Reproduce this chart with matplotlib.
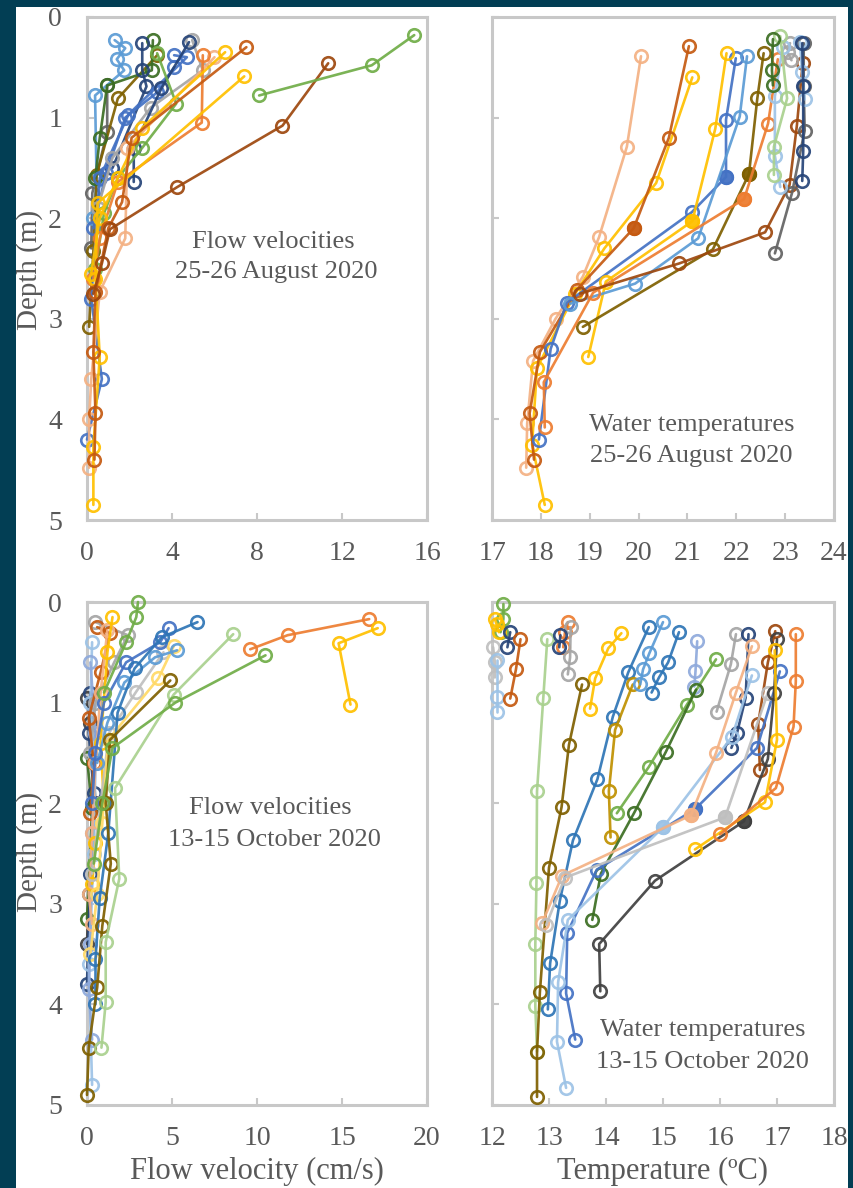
import matplotlib
matplotlib.use("Agg")
import matplotlib.pyplot as plt
from matplotlib.patches import Rectangle

W, H = 854, 1188
BG = "#023E54"
TXT = "#595959"
FRAME = "#C8C8C8"
FONT = "Liberation Serif"

BLUE, ORANGE, GRAY, GOLD = "#4472C4", "#ED7D31", "#A5A5A5", "#FFC000"
LTBLUE, GREEN, NAVY, DKORANGE = "#5B9BD5", "#70AD47", "#264478", "#C55A11"
BROWN, OLIVE, DKGREEN, DKGRAY = "#9E480E", "#7F6000", "#3B6E22", "#636363"
LTGREEN, SALMON, PALEBLUE, PERI = "#A9D18E", "#F4B183", "#9DC3E6", "#8FAADC"
DKBLUE, MUSTARD, LTGRAY, LTGOLD = "#2E75B6", "#BF9000", "#BFBFBF", "#FFD966"
CHAR = "#404040"

# ---- 25-26 August 2020, flow velocity (cm/s) vs depth (m)
aug_v_green = ([15.4, 13.4, 8.1], [0.18, 0.48, 0.78])
aug_v_green2 = ([3.3, 4.2, 2.6, 1.45, 0.8, 0.4], [0.36, 0.86, 1.3, 1.6, 1.95, 2.5])
aug_v_brown = ([11.35, 9.2, 4.25, 1.08, 0.7, 0.3], [0.46, 1.08, 1.69, 2.11, 2.45, 2.75])
aug_v_dkorange = ([7.5, 2.1, 1.65, 1.0, 0.4, 0.3, 0.4, 0.35], [0.3, 1.2, 1.84, 2.1, 2.73, 3.33, 3.94, 4.4])
aug_v_gold1 = ([7.4, 0.5, 0.4, 0.6, 0.3, 0.3], [0.59, 1.85, 2.6, 3.38, 4.27, 4.85])
aug_v_gold2 = ([6.5, 2.6, 1.45, 0.6, 0.2], [0.35, 1.1, 1.6, 2.0, 2.55])
aug_v_orange = ([5.45, 5.4, 1.45, 0.6, 0.3], [0.38, 1.05, 1.64, 2.2, 2.6])
aug_v_salmon = ([6.0, 1.9, 1.8, 0.6, 0.2, 0.1, 0.1], [0.4, 1.3, 2.2, 2.73, 3.6, 4.0, 4.48])
aug_v_navy = ([4.8, 3.5, 2.2, 2.2], [0.25, 0.71, 1.3, 1.64])
aug_v_navy2 = ([2.6, 2.6, 2.8, 1.2], [0.26, 0.53, 0.69, 1.5])
aug_v_dkgreen = ([3.1, 3.05, 0.95, 0.6, 0.4], [0.23, 0.53, 0.68, 1.2, 1.6])
aug_v_olive = ([3.3, 1.45, 0.45, 0.3, 0.1], [0.38, 0.81, 1.57, 2.33, 3.08])
aug_v_ltblue = ([1.3, 1.8, 1.4, 1.75, 0.38, 0.45, 0.3], [0.23, 0.31, 0.42, 0.53, 0.78, 1.62, 2.0])
aug_v_gray = ([4.95, 5.45, 3.0, 1.2, 0.5], [0.23, 0.53, 0.9, 1.4, 1.9])
aug_v_dkgray = ([0.95, 0.95, 0.25, 0.2], [0.68, 1.14, 1.75, 2.3])
aug_v_blue = ([4.1, 4.7, 1.95, 0.6, 0.2, 0.7, 0.0], [0.38, 0.4, 0.97, 1.6, 2.8, 3.6, 4.2])
aug_v_blue2 = ([4.1, 3.3, 1.8, 0.9, 0.3], [0.5, 0.75, 1.0, 1.55, 2.1])

# ---- 25-26 August 2020, water temperature (degC) vs depth (m)
aug_t_salmon = ([20.05, 19.76, 19.19, 18.86, 18.3, 17.84, 17.72, 17.7], [0.39, 1.29, 2.19, 2.58, 3.0, 3.42, 4.04, 4.48])
aug_t_dkorange = ([21.03, 20.62, 19.9, 18.74, 17.98, 17.77, 17.86], [0.29, 1.2, 2.1, 2.71, 3.33, 3.94, 4.4])
aug_t_gold1 = ([21.1, 20.36, 19.3, 18.7, 17.92, 17.82, 18.08], [0.6, 1.65, 2.3, 2.75, 3.49, 4.25, 4.85])
aug_t_gold2 = ([21.8, 21.57, 21.1, 19.33, 18.97], [0.36, 1.11, 2.03, 2.63, 3.38])
aug_t_blue = ([21.99, 21.79, 21.79, 21.09, 18.53, 18.2, 17.96], [0.41, 1.02, 1.59, 1.94, 2.84, 3.3, 4.2])
aug_t_ltblue = ([22.22, 22.07, 21.22, 19.93, 18.6], [0.39, 0.99, 2.2, 2.65, 2.85])
aug_t_olive = ([22.56, 22.43, 22.26, 21.52, 18.86], [0.36, 0.81, 1.56, 2.31, 3.08])
aug_t_orange = ([22.85, 22.65, 22.16, 19.07, 18.06, 18.08], [0.42, 1.06, 1.81, 2.74, 3.63, 4.08])
aug_t_brown = ([23.36, 23.24, 23.09, 22.59, 20.83, 18.8], [0.46, 1.08, 1.67, 2.14, 2.45, 2.75])
aug_t_dkgray = ([23.38, 23.38, 23.4, 23.14, 22.79], [0.26, 0.69, 1.13, 1.75, 2.35])
aug_t_navy = ([23.35, 23.37, 23.37, 23.35], [0.26, 0.69, 1.33, 1.63])
aug_t_ltgreen = ([22.9, 23.04, 22.77, 22.77], [0.19, 0.81, 1.29, 1.57])
aug_t_paleblue = ([22.95, 22.79, 22.79, 22.9], [0.3, 0.79, 1.38, 1.69])
aug_t_dkgreen = ([22.75, 22.73, 22.75], [0.22, 0.53, 0.68])
aug_t_gray = ([23.1, 23.05, 23.13], [0.26, 0.35, 0.43])
aug_t_ltblue2 = ([23.3, 23.35, 23.4], [0.25, 0.55, 0.82])

# ---- 13-15 October 2020, flow velocity (cm/s) vs depth (m)
oct_v_orange = ([16.6, 11.8, 9.6], [0.17, 0.33, 0.47])
oct_v_gold = ([17.1, 14.8, 15.5], [0.26, 0.41, 1.02])
oct_v_green = ([10.5, 5.2, 1.5, 0.9, 0.4], [0.53, 1.0, 1.45, 2.0, 2.6])
oct_v_green2 = ([3.0, 2.9, 2.3, 1.0], [0.0, 0.15, 0.4, 0.9])
oct_v_ltgreen = ([8.6, 5.1, 1.65, 1.9, 1.1, 1.1, 0.85], [0.32, 0.92, 1.85, 2.75, 3.38, 3.98, 4.43])
oct_v_olive = ([4.9, 1.35, 1.1, 1.4, 0.9, 0.6, 0.1, 0.0], [0.78, 1.37, 2.0, 2.6, 3.22, 3.83, 4.43, 4.9])
oct_v_dkblue = ([6.5, 4.4, 2.8, 1.8, 1.25, 0.75, 0.5, 0.5], [0.2, 0.35, 0.66, 1.1, 2.3, 2.94, 3.55, 4.0])
oct_v_blue = ([4.8, 4.3, 2.3, 1.0, 0.5, 0.3], [0.26, 0.4, 0.6, 1.0, 1.5, 2.0])
oct_v_ltblue = ([5.3, 4.0, 2.2, 1.2, 0.6], [0.48, 0.55, 0.8, 1.2, 1.6])
oct_v_ltgold = ([5.1, 4.2, 1.25, 0.9, 0.6, 0.2], [0.44, 0.76, 1.37, 2.2, 2.9, 3.5])
oct_v_ltgray = ([4.5, 2.9, 1.3, 0.8, 0.3], [0.5, 0.89, 1.3, 2.0, 2.7])
oct_v_dkorange = ([0.6, 1.35, 0.8, 0.1, 0.4, 0.2], [0.25, 0.31, 0.7, 1.15, 1.6, 2.1])
oct_v_gray = ([0.5, 2.4, 1.6, 0.5, 0.2], [0.2, 0.33, 0.6, 1.0, 1.5])
oct_v_char = ([0.0, 0.2, 0.5, 0.1, 0.0], [0.95, 1.2, 2.0, 2.9, 3.4])
oct_v_dkgreen = ([0.0, 0.3, 0.0], [1.55, 2.05, 3.15])
oct_v_paleblue = ([0.3, 0.2, 0.5, 0.4, 0.1, 0.3], [0.4, 1.0, 1.6, 2.5, 3.6, 4.8])
oct_v_peri = ([0.2, 0.5, 0.3, 0.2, 0.1, 0.3], [0.6, 1.3, 2.3, 3.4, 3.85, 4.35])
oct_v_salmon = ([1.2, 0.8, 0.5, 0.3, 0.1, 0.3], [0.28, 0.9, 1.6, 2.3, 2.9, 3.2])
oct_v_gold2 = ([1.5, 1.2, 0.8, 1.0, 0.5, 0.3], [0.15, 0.5, 1.4, 2.0, 2.4, 2.8])
oct_v_navy = ([0.2, 0.1, 0.4, 0.2, 0.0], [0.9, 1.3, 1.9, 2.7, 3.8])

# ---- 13-15 October 2020, water temperature (degC) vs depth (m)
oct_t_green = ([12.2, 12.2, 12.15], [0.02, 0.17, 0.3])
oct_t_ltgreen = ([12.97, 12.9, 12.79, 12.78, 12.76, 12.76, 12.79], [0.37, 0.95, 1.88, 2.79, 3.4, 4.02, 4.47])
oct_t_dkorange = ([12.5, 12.42, 12.32], [0.37, 0.67, 0.96])
oct_t_paleblue = ([12.09, 12.09, 12.09], [0.58, 0.94, 1.09])
oct_t_navy1 = ([12.32, 12.27], [0.3, 0.45])
oct_t_gold1 = ([12.05, 12.08, 12.12], [0.17, 0.22, 0.3])
oct_t_gray1 = ([12.02, 12.05, 12.05], [0.45, 0.6, 0.75])
oct_t_orange1 = ([13.33, 13.28, 13.25], [0.2, 0.3, 0.45])
oct_t_gray2 = ([13.38, 13.37, 13.33], [0.25, 0.55, 0.72])
oct_t_navy2 = ([13.2, 13.18], [0.33, 0.45])
oct_t_gold = ([14.27, 14.04, 13.81, 13.72], [0.31, 0.46, 0.76, 1.06])
oct_t_olive = ([13.58, 13.35, 13.22, 13.0, 12.84, 12.79, 12.79], [0.82, 1.42, 2.04, 2.64, 3.88, 4.47, 4.92])
oct_t_dkblue = ([14.75, 14.39, 14.12, 13.85, 13.42, 13.19, 13.02, 12.98], [0.25, 0.7, 1.14, 1.76, 2.37, 2.97, 3.59, 4.05])
oct_t_mustard = ([14.47, 14.16, 14.05, 14.08], [0.82, 1.27, 1.88, 2.34])
oct_t_ltblue = ([15.0, 14.76, 14.65, 14.6], [0.2, 0.51, 0.67, 0.82])
oct_t_blue2 = ([15.28, 15.09, 14.93, 14.8], [0.3, 0.6, 0.75, 0.9])
oct_t_peri = ([15.6, 15.57, 15.55], [0.39, 0.69, 0.84])
oct_t_green2 = ([15.93, 15.42, 14.75, 14.19], [0.57, 1.02, 1.64, 2.1])
oct_t_dkgreen = ([15.58, 15.05, 14.49, 13.91, 13.76], [0.87, 1.49, 2.1, 2.7, 3.16])
oct_t_gray = ([16.28, 16.19, 15.94], [0.32, 0.62, 1.09])
oct_t_char = ([17.0, 16.95, 16.84, 16.42, 14.86, 13.88, 13.9], [0.37, 0.9, 1.56, 2.18, 2.77, 3.4, 3.87])
oct_t_salmon = ([16.56, 16.28, 15.93, 15.49, 13.23, 12.88], [0.44, 0.9, 1.5, 2.12, 2.72, 3.19])
oct_t_blue = ([17.05, 16.65, 15.56, 13.84, 13.32, 13.3, 13.46], [0.69, 1.45, 2.06, 2.66, 3.29, 3.89, 4.35])
oct_t_paleblue2 = ([16.56, 16.21, 15.0, 13.33, 13.16, 13.14, 13.3], [0.73, 1.34, 2.24, 3.16, 3.78, 4.37, 4.83])
oct_t_ltgray = ([16.84, 16.09, 13.28, 12.95], [0.9, 2.14, 2.74, 3.21])
oct_t_gold2 = ([16.96, 17.0, 16.79, 15.56], [0.48, 1.37, 1.99, 2.46])
oct_t_orange = ([17.33, 17.33, 17.29, 16.98, 16.0], [0.32, 0.79, 1.24, 1.85, 2.31])
oct_t_brown = ([16.97, 16.84, 16.67, 16.7], [0.29, 0.6, 1.21, 1.67])
oct_t_navy = ([16.5, 16.45, 16.3, 16.2], [0.32, 0.95, 1.3, 1.45])

# (series, colour, index of filled marker or None)
aug_vel = [(aug_v_dkgray, DKGRAY, None), (aug_v_ltblue, LTBLUE, None), (aug_v_olive, OLIVE, None),
           (aug_v_dkgreen, DKGREEN, None), (aug_v_navy2, NAVY, None), (aug_v_blue2, BLUE, None),
           (aug_v_blue, BLUE, None), (aug_v_gray, GRAY, None), (aug_v_navy, NAVY, None),
           (aug_v_green2, GREEN, None), (aug_v_salmon, SALMON, None), (aug_v_orange, ORANGE, None),
           (aug_v_gold2, GOLD, None), (aug_v_gold1, GOLD, None), (aug_v_dkorange, DKORANGE, None),
           (aug_v_brown, BROWN, None), (aug_v_green, GREEN, None)]
aug_temp = [(aug_t_salmon, SALMON, None), (aug_t_gold1, GOLD, None), (aug_t_dkorange, DKORANGE, 2),
            (aug_t_blue, BLUE, 2), (aug_t_gold2, GOLD, 2), (aug_t_ltblue, LTBLUE, None),
            (aug_t_olive, OLIVE, 2), (aug_t_orange, ORANGE, 2), (aug_t_brown, BROWN, None),
            (aug_t_dkgray, DKGRAY, None), (aug_t_gray, GRAY, None), (aug_t_ltblue2, PALEBLUE, None),
            (aug_t_navy, NAVY, None), (aug_t_paleblue, PALEBLUE, None), (aug_t_ltgreen, LTGREEN, None),
            (aug_t_dkgreen, DKGREEN, None)]
oct_vel = [(oct_v_char, CHAR, None), (oct_v_dkgreen, DKGREEN, None), (oct_v_navy, NAVY, None),
           (oct_v_paleblue, PALEBLUE, None), (oct_v_peri, PERI, None), (oct_v_gray, GRAY, None),
           (oct_v_dkorange, DKORANGE, None), (oct_v_salmon, SALMON, None), (oct_v_gold2, GOLD, None),
           (oct_v_ltgray, LTGRAY, None), (oct_v_ltgold, LTGOLD, None), (oct_v_ltblue, LTBLUE, None),
           (oct_v_blue, BLUE, None), (oct_v_dkblue, DKBLUE, None), (oct_v_olive, OLIVE, None),
           (oct_v_green2, GREEN, None), (oct_v_ltgreen, LTGREEN, None), (oct_v_green, GREEN, None),
           (oct_v_orange, ORANGE, None), (oct_v_gold, GOLD, None)]
oct_temp = [(oct_t_green, GREEN, None), (oct_t_gold1, GOLD, None), (oct_t_gray1, LTGRAY, None),
            (oct_t_paleblue, PALEBLUE, None), (oct_t_navy1, NAVY, None), (oct_t_dkorange, DKORANGE, None),
            (oct_t_ltgreen, LTGREEN, None), (oct_t_orange1, ORANGE, None), (oct_t_gray2, GRAY, None),
            (oct_t_navy2, NAVY, None), (oct_t_gold, GOLD, None), (oct_t_olive, OLIVE, None),
            (oct_t_dkblue, DKBLUE, None), (oct_t_mustard, MUSTARD, None), (oct_t_ltblue, LTBLUE, None),
            (oct_t_blue2, DKBLUE, None), (oct_t_peri, PERI, None), (oct_t_green2, GREEN, None),
            (oct_t_dkgreen, DKGREEN, None), (oct_t_gray, GRAY, None), (oct_t_navy, NAVY, None),
            (oct_t_brown, BROWN, None), (oct_t_blue, BLUE, 2), (oct_t_paleblue2, PALEBLUE, 2),
            (oct_t_salmon, SALMON, 3), (oct_t_ltgray, LTGRAY, 1), (oct_t_char, CHAR, 3),
            (oct_t_gold2, GOLD, None), (oct_t_orange, ORANGE, None)]


def fx(px):
    return px / W


def fy(py):
    return 1 - py / H


def draw(ax, series, xlim, xticks):
    for (xs, ds), color, filled in series:
        ax.plot(xs, ds, color=color, lw=1.9, marker="o", ms=9, mfc="none", mec=color, mew=1.9,
                solid_capstyle="round", alpha=0.92, clip_on=False)
        if filled is not None:
            ax.plot(xs[filled], ds[filled], "o", color=color, ms=10, alpha=0.95, clip_on=False)
    ax.set_xlim(*xlim)
    ax.set_ylim(5, 0)
    ax.set_xticks(xticks)
    ax.set_yticks(range(6))
    for s in ax.spines.values():
        s.set_color(FRAME)
        s.set_linewidth(2.2)
        s.set_zorder(0.5)
    ax.tick_params(direction="in", length=5, width=1.5, color=FRAME, labelsize=20,
                   labelcolor=TXT, pad=15)
    ax.tick_params(axis="y", pad=18)
    for lab in ax.get_xticklabels() + ax.get_yticklabels():
        lab.set_fontfamily(FONT)


fig = plt.figure(figsize=(W / 100, H / 100), dpi=100, facecolor=BG)
fig.patches.append(Rectangle((fx(16), 0), fx(848) - fx(16), fy(7), transform=fig.transFigure,
                             facecolor="white", edgecolor="none", zorder=-5))

ax_tl = fig.add_axes([fx(87), fy(520), fx(427) - fx(87), fy(17) - fy(520)])
ax_tr = fig.add_axes([fx(492), fy(520), fx(834) - fx(492), fy(17) - fy(520)])
ax_bl = fig.add_axes([fx(87), fy(1105), fx(427) - fx(87), fy(602) - fy(1105)])
ax_br = fig.add_axes([fx(492), fy(1105), fx(834) - fx(492), fy(602) - fy(1105)])

draw(ax_tl, aug_vel, (0, 16), [0, 4, 8, 12, 16])
draw(ax_tr, aug_temp, (17, 24), list(range(17, 25)))
draw(ax_bl, oct_vel, (0, 20), [0, 5, 10, 15, 20])
draw(ax_br, oct_temp, (12, 18), list(range(12, 19)))
for ax in (ax_tr, ax_br):
    ax.tick_params(labelleft=False)

note = dict(fontsize=19, color=TXT, family=FONT, ha="center", va="center")
ax_tl.text(8.75, 2.24, "Flow velocities", **note)
ax_tl.text(8.9, 2.53, "25-26 August 2020", **note)
ax_tr.text(21.09, 4.06, "Water temperatures", **note)
ax_tr.text(21.07, 4.36, "25-26 August 2020", **note)
ax_bl.text(10.8, 2.05, "Flow velocities", **note)
ax_bl.text(11.0, 2.37, "13-15 October 2020", **note)
ax_br.text(15.7, 4.25, "Water temperatures", **note)
ax_br.text(15.7, 4.57, "13-15 October 2020", **note)

lab = dict(fontsize=21, color=TXT, family=FONT, ha="center", va="center")
fig.text(fx(30), fy(270), "Depth (m)", rotation=90, **lab)
fig.text(fx(30), fy(852), "Depth (m)", rotation=90, **lab)
xlab = dict(lab, fontsize=22)
fig.text(fx(257), fy(1171), "Flow velocity (cm/s)", **xlab)
fig.text(fx(663), fy(1171), "Temperature (ºC)", **xlab)

fig.savefig("out.png", dpi=100, facecolor=BG)
